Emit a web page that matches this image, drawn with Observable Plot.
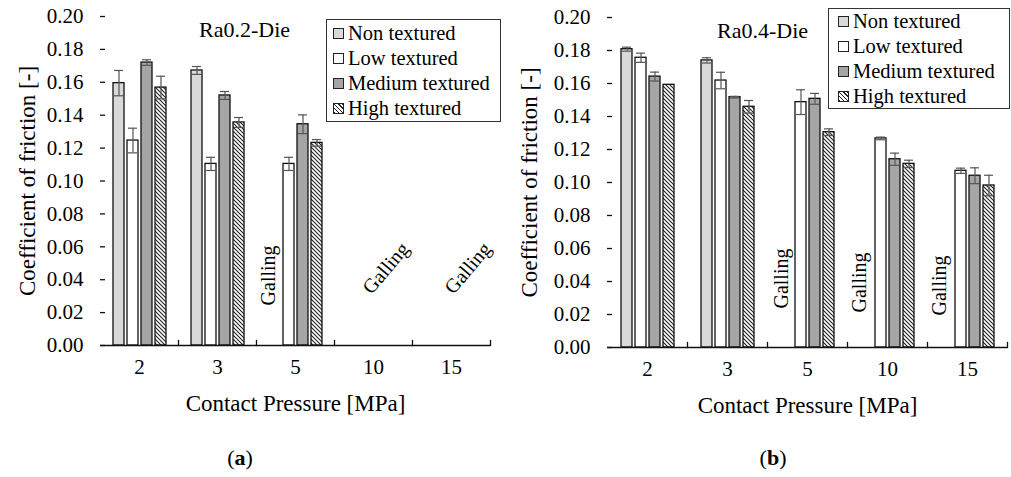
<!DOCTYPE html>
<html>
<head>
<meta charset="utf-8">
<script src="https://cdn.jsdelivr.net/npm/d3@7"></script>
<script src="https://cdn.jsdelivr.net/npm/@observablehq/plot@0.6"></script>
<style>
  html, body { margin: 0; padding: 0; background: #fff; }
  #wrap { position: relative; width: 1011px; height: 477px; overflow: hidden; font-family: "Liberation Serif", "DejaVu Serif", "Noto Serif", Tinos, "Times New Roman", Times, serif; color: #000; }
  .panel { position: absolute; top: 0; }
  .legend { position: absolute; box-sizing: border-box; border: 1.5px solid #333; background: #fff; font-size: 20.5px; line-height: 25px; }
  .legend .item { display: flex; align-items: center; white-space: nowrap; }
  .legend .sw { display: inline-block; width: 9px; height: 9px; border: 1.4px solid #222; margin-right: 4px; }
  .cap { position: absolute; top: 445px; font-size: 22px; transform: translateX(-50%); }
  svg text { font-family: "Liberation Serif", "DejaVu Serif", "Noto Serif", Tinos, "Times New Roman", Times, serif; }
</style>
</head>
<body>
<div id="wrap">
  <div id="pa" class="panel" style="left:0px"></div>
  <div id="pb" class="panel" style="left:505px"></div>
  <div id="lega" class="legend" style="left:326px; top:19px; width:175px; height:103px; padding:1px 0 0 6px;"></div>
  <div id="legb" class="legend" style="left:828px; top:8px; width:182px; height:101px; padding:0 0 0 9px;"></div>
  <div class="cap" style="left:240px">(<b>a</b>)</div>
  <div class="cap" style="left:773px">(<b>b</b>)</div>
</div>
<script>
// ---- data ----
const pressures = ["2", "3", "5", "10", "15"];
const seriesNames = ["Non textured", "Low textured", "Medium textured", "High textured"];
const yTicks = [0, 0.02, 0.04, 0.06, 0.08, 0.10, 0.12, 0.14, 0.16, 0.18, 0.20];

// Ra0.2-Die (null = galling)
const ra02Non     = [0.1595, 0.1672, null, null, null];
const ra02NonErr  = [0.0077, 0.0024, null, null, null];
const ra02Low     = [0.1246, 0.1104, 0.1104, null, null];
const ra02LowErr  = [0.0075, 0.0040, 0.0040, null, null];
const ra02Med     = [0.1720, 0.1520, 0.1345, null, null];
const ra02MedErr  = [0.0017, 0.0024, 0.0057, null, null];
const ra02High    = [0.1568, 0.1356, 0.1232, null, null];
const ra02HighErr = [0.0069, 0.0030, 0.0020, null, null];

// Ra0.4-Die (null = galling)
const ra04Non     = [0.1808, 0.1740, null, null, null];
const ra04NonErr  = [0.0012, 0.0016, null, null, null];
const ra04Low     = [0.1756, 0.1618, 0.1487, 0.1267, 0.1071];
const ra04LowErr  = [0.0028, 0.0050, 0.0075, 0.0008, 0.0016];
const ra04Med     = [0.1642, 0.1517, 0.1507, 0.1141, 0.1041];
const ra04MedErr  = [0.0027, 0.0005, 0.0033, 0.0037, 0.0048];
const ra04High    = [0.1592, 0.1459, 0.1305, 0.1113, 0.0982];
const ra04HighErr = [0.0000, 0.0038, 0.0020, 0.0022, 0.0062];

const ra02Galling = ["5", "10", "15"];
const ra04Galling = ["5", "10", "15"];

const FONT = "'Liberation Serif', 'DejaVu Serif', 'Noto Serif', Tinos, 'Times New Roman', Times, serif";
const fills = ["#d9d9d9", "#ffffff", "#a5a5a5", "url(#hatch)"];
const errColor = "#555";

function table(vals, errs) {
  const out = [];
  vals.forEach((vs, si) => {
    pressures.forEach((p, i) => {
      if (vs[i] != null) out.push({pressure: p, series: seriesNames[si], value: vs[i], err: errs[si][i]});
    });
  });
  return out;
}

function addHatch(svg) {
  const defs = d3.select(svg).insert("defs", ":first-child");
  const pat = defs.append("pattern").attr("id", "hatch").attr("patternUnits", "userSpaceOnUse")
    .attr("width", 4).attr("height", 4);
  pat.append("rect").attr("width", 4).attr("height", 4).attr("fill", "#fff");
  pat.append("path").attr("d", "M-1,-1L5,5M-1,3L1,5M3,-1L5,1").attr("stroke", "#222").attr("stroke-width", 1.1);
}

function panel(opts) {
  const {data, title, galling, width, marginLeft, marginRight, marginTop, marginBottom, titleDx, yLabelDx} = opts;
  const height = 420;
  const plotH = height - marginTop - marginBottom;
  const withErr = data.filter(d => d.err > 0);
  const marks = [];
  seriesNames.forEach((s, i) => {
    marks.push(Plot.barY(data.filter(d => d.series === s), {
      fx: "pressure", x: "series", y: "value", fill: fills[i], stroke: "#111", strokeWidth: 1.3
    }));
  });
  marks.push(
    Plot.ruleX(withErr, {fx: "pressure", x: "series", y1: d => d.value - d.err, y2: d => d.value + d.err, stroke: errColor, strokeWidth: 1.2}),
    Plot.tickY(withErr, {fx: "pressure", x: "series", y: d => d.value + d.err, stroke: errColor, strokeWidth: 1.2, insetLeft: 1, insetRight: 1}),
    Plot.tickY(withErr, {fx: "pressure", x: "series", y: d => d.value - d.err, stroke: errColor, strokeWidth: 1.2, insetLeft: 1, insetRight: 1}),
    Plot.ruleY([0], {stroke: "#111", strokeWidth: 1.3}),
    Plot.frame({anchor: "right", insetTop: plotH - 5, stroke: "#111", strokeWidth: 1.3}),
    Plot.axisY(yTicks, {tickFormat: d => d.toFixed(2), tickSize: -5, tickPadding: 22, line: true, stroke: "#111", strokeWidth: 1.3, fontSize: 21, label: null}),
    Plot.axisFx({anchor: "bottom", tickSize: 0, tickPadding: 14, fontSize: 21, label: null}),
    Plot.text([{pressure: "2"}], {fx: "pressure", frameAnchor: "left", textAnchor: "middle", lineAnchor: "middle", text: () => "Coefficient of friction [-]", rotate: -90, dx: yLabelDx, fontSize: 23}),
    Plot.text([{pressure: "5"}], {fx: "pressure", frameAnchor: "bottom", lineAnchor: "middle", text: () => "Contact Pressure [MPa]", dy: 58, fontSize: 23}),
    Plot.text([{pressure: "3"}], {fx: "pressure", frameAnchor: "top", lineAnchor: "middle", text: () => title, dx: titleDx, dy: 13, fontSize: 22})
  );
  galling.forEach(g => {
    marks.push(Plot.text([{pressure: g.p, series: g.s}], {
      fx: "pressure", x: "series", y: () => g.y, text: () => "Galling", rotate: g.r, dx: g.dx, fontSize: 20
    }));
  });
  const svg = Plot.plot({
    width, height, marginLeft, marginRight, marginTop, marginBottom,
    style: {fontFamily: FONT, fontSize: "21px", color: "#000", background: "transparent", overflow: "visible"},
    fx: {domain: pressures, padding: 0},
    x: {domain: seriesNames, paddingInner: 0.24, paddingOuter: 0.8, axis: null},
    y: {domain: [0, 0.2]},
    marks
  });
  addHatch(svg);
  return svg;
}

const dataA = table([ra02Non, ra02Low, ra02Med, ra02High], [ra02NonErr, ra02LowErr, ra02MedErr, ra02HighErr]);
const dataB = table([ra04Non, ra04Low, ra04Med, ra04High], [ra04NonErr, ra04LowErr, ra04MedErr, ra04HighErr]);

document.getElementById("pa").appendChild(panel({
  data: dataA, title: "Ra0.2-Die", width: 505, marginLeft: 100, marginRight: 15, marginTop: 16, marginBottom: 75,
  titleDx: 27, yLabelDx: -73,
  galling: [
    {p: ra02Galling[0], s: "Non textured", y: 0.0426, r: -90, dx: -6},
    {p: ra02Galling[1], s: "Medium textured", y: 0.047, r: -50, dx: 5},
    {p: ra02Galling[2], s: "Medium textured", y: 0.047, r: -50, dx: 9}
  ]
}));
document.getElementById("pb").appendChild(panel({
  data: dataB, title: "Ra0.4-Die", width: 506, marginLeft: 102, marginRight: 4, marginTop: 17, marginBottom: 73,
  titleDx: 35, yLabelDx: -78,
  galling: [
    {p: ra04Galling[0], s: "Non textured", y: 0.0418, r: -90, dx: -5},
    {p: ra04Galling[1], s: "Non textured", y: 0.0394, r: -90, dx: -7},
    {p: ra04Galling[2], s: "Non textured", y: 0.0376, r: -90, dx: -7}
  ]
}));

const swatchStyles = [
  "background:#d9d9d9",
  "background:#ffffff",
  "background:#a5a5a5",
  "background:repeating-linear-gradient(45deg,#222 0 1px,#fff 1px 3px)"
];
for (const id of ["lega", "legb"]) {
  const el = document.getElementById(id);
  seriesNames.forEach((s, i) => {
    const item = document.createElement("div");
    item.className = "item";
    const sw = document.createElement("span");
    sw.className = "sw";
    sw.style.cssText = swatchStyles[i];
    item.appendChild(sw);
    item.appendChild(document.createTextNode(s));
    el.appendChild(item);
  });
}
</script>
</body>
</html>
